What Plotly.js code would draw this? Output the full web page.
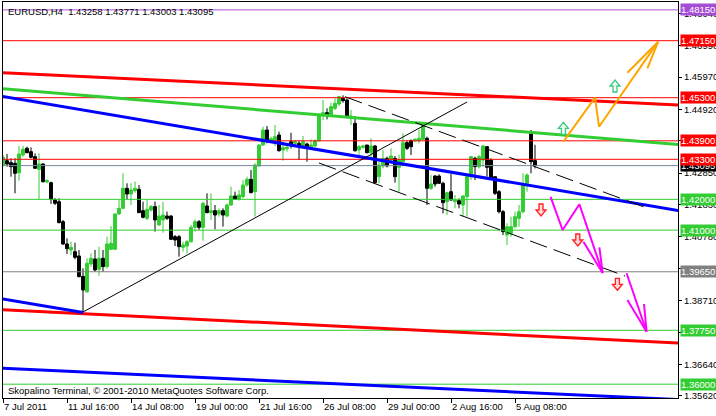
<!DOCTYPE html>
<html>
<head>
<meta charset="utf-8">
<script src="https://cdn.plot.ly/plotly-3.0.1.min.js"></script>
<style>html,body{margin:0;padding:0;background:#fff;}#chart{width:716px;height:416px;}</style>
</head>
<body>
<div id="chart"></div>
<script>
// ---- OHLC data, EURUSD H4 (bar 0 = 7 Jul 2011 00:00) ----
const openP = [1.43116,1.43256,1.43191,1.43170,1.42867,1.43440,1.43657,1.43548,1.43386,1.42975,
1.43148,1.42564,1.42542,1.42001,1.41925,1.41276,1.40551,1.40357,1.40302,1.40162,
1.39500,1.39003,1.39902,1.40064,1.39729,1.40086,1.39816,1.40378,1.40378,1.41525,
1.41709,1.42358,1.42174,1.42282,1.42326,1.41633,1.41384,1.41655,1.41763,1.41168,
1.41330,1.41460,1.41460,1.40789,1.40789,1.40443,1.40486,1.40627,1.41092,1.41276,
1.41092,1.41785,1.41568,1.41633,1.41525,1.41633,1.41460,1.41817,1.42109,1.42001,
1.42087,1.42466,1.42650,1.42249,1.43083,1.43764,1.44251,1.43883,1.43926,1.44089,
1.43602,1.43645,1.43872,1.43818,1.43818,1.43710,1.43797,1.43710,1.43732,1.43905,
1.44738,1.44814,1.44738,1.44954,1.45095,1.45279,1.45225,1.44662,1.44467,1.43602,
1.43688,1.43764,1.43515,1.43732,1.42736,1.43083,1.43331,1.43277,1.43331,1.43039,
1.43223,1.43840,1.43905,1.43905,1.43905,1.43948,1.43981,1.42358,1.42758,1.42758,
1.42520,1.41925,1.42249,1.41925,1.41957,1.41817,1.42087,1.42736,1.43331,1.43061,
1.43277,1.43710,1.43277,1.42736,1.42249,1.41600,1.40843,1.40897,1.41113,1.41384,
1.41600,1.42520,1.44144,1.43258];
const highP = [1.43440,1.43473,1.43332,1.43332,1.43732,1.43732,1.43711,1.43689,1.43494,1.43494,
1.43170,1.42650,1.42575,1.42034,1.42034,1.41330,1.40735,1.40627,1.40594,1.40357,
1.39761,1.40086,1.40248,1.40357,1.40465,1.40357,1.40789,1.41136,1.41547,1.41980,
1.42845,1.42520,1.42520,1.42575,1.42466,1.41925,1.41980,1.41817,1.41925,1.41817,
1.41925,1.41601,1.41482,1.40843,1.40843,1.40627,1.40681,1.41168,1.41352,1.41330,
1.41925,1.42196,1.42196,1.41817,1.41709,1.41709,1.41871,1.42412,1.42250,1.42304,
1.42628,1.42736,1.42953,1.43169,1.43797,1.44359,1.44381,1.44035,1.44413,1.44197,
1.43872,1.43732,1.44164,1.43926,1.43905,1.44056,1.43840,1.43948,1.43948,1.44792,
1.45225,1.44954,1.45138,1.45279,1.45355,1.45376,1.45279,1.44900,1.44706,1.43764,
1.43764,1.43764,1.43981,1.43764,1.43223,1.43602,1.43385,1.43656,1.43407,1.43440,
1.44143,1.43905,1.43948,1.43981,1.44251,1.44489,1.44035,1.42790,1.42790,1.42812,
1.42574,1.42249,1.42823,1.42141,1.42033,1.42141,1.42736,1.43407,1.43385,1.43440,
1.43764,1.43732,1.43331,1.42736,1.42304,1.41654,1.41222,1.41438,1.41600,1.41817,
1.42845,1.42845,1.44251,1.43771];
const lowP = [1.43061,1.43061,1.42737,1.42196,1.42607,1.43386,1.43494,1.43332,1.43007,1.42001,
1.42542,1.42520,1.41850,1.41817,1.41222,1.40519,1.40227,1.40194,1.40053,1.39469,
1.38353,1.38960,1.39816,1.39653,1.39513,1.39653,1.39761,1.40357,1.40357,1.41492,
1.41676,1.42001,1.41817,1.42218,1.41568,1.41384,1.41330,1.41601,1.40952,1.41136,
1.40919,1.41330,1.40681,1.40486,1.40140,1.40302,1.40248,1.40594,1.40952,1.41006,
1.40659,1.41547,1.41330,1.41027,1.41438,1.41114,1.41417,1.41785,1.41980,1.41958,
1.42033,1.42412,1.42195,1.41438,1.43061,1.43732,1.43818,1.43840,1.43732,1.43548,
1.43256,1.43548,1.43656,1.43764,1.43277,1.43656,1.43223,1.43656,1.43710,1.43872,
1.44576,1.44597,1.44684,1.44900,1.45030,1.45138,1.44630,1.44413,1.43548,1.43407,
1.43645,1.43494,1.43331,1.42520,1.42520,1.43007,1.43039,1.43223,1.42542,1.42249,
1.43169,1.43602,1.43440,1.43872,1.43818,1.43926,1.41817,1.42304,1.42412,1.42498,
1.41546,1.41492,1.41957,1.41708,1.41708,1.41438,1.41438,1.42628,1.42628,1.43007,
1.43061,1.42736,1.42628,1.42141,1.41546,1.40843,1.40518,1.40789,1.41059,1.41113,
1.41546,1.42249,1.42846,1.43003];
const closeP = [1.43364,1.43148,1.43061,1.42845,1.43473,1.43624,1.43516,1.43364,1.43007,1.43148,
1.42575,1.42607,1.42001,1.41871,1.41244,1.40551,1.40400,1.40443,1.40118,1.39491,
1.39058,1.39924,1.40086,1.39707,1.40086,1.39816,1.40551,1.40573,1.41525,1.41709,
1.42358,1.42174,1.42304,1.42358,1.41568,1.41417,1.41676,1.41763,1.41330,1.41460,
1.41492,1.41384,1.40703,1.40681,1.40465,1.40519,1.40627,1.41092,1.41276,1.41092,
1.41871,1.41568,1.41633,1.41492,1.41633,1.41492,1.41817,1.42109,1.42001,1.42142,
1.42466,1.42650,1.42217,1.43115,1.43764,1.44251,1.43905,1.43970,1.44035,1.43580,
1.43678,1.43688,1.43797,1.43872,1.43732,1.43872,1.43710,1.43764,1.43905,1.44738,
1.44814,1.44738,1.45008,1.45117,1.45333,1.45203,1.44684,1.44706,1.43580,1.43710,
1.43732,1.43515,1.43732,1.42542,1.43115,1.43331,1.43083,1.43407,1.42736,1.43277,
1.43840,1.43656,1.43710,1.43948,1.43981,1.44467,1.42358,1.42498,1.42498,1.42520,
1.41892,1.42217,1.41979,1.41979,1.41849,1.42109,1.42736,1.43385,1.43061,1.43385,
1.43732,1.43039,1.42682,1.42195,1.41600,1.40951,1.41113,1.41113,1.41438,1.41600,
1.42466,1.42790,1.43222,1.43095];

// ---- time axis labels (bar index -> label) ----
const timeTickBars = [0, 16, 32, 48, 64, 80, 96, 112, 128];
const timeTickLabels = ['7 Jul 2011','11 Jul 16:00','14 Jul 08:00','19 Jul 00:00','21 Jul 16:00','26 Jul 08:00','29 Jul 00:00','2 Aug 16:00','5 Aug 08:00'];

// ---- price axis ticks ----
const priceTicks = [1.3562,1.3664,1.3769,1.3871,1.3976,1.4078,1.4183,1.4285,1.4390,1.4492,1.4597,1.4699,1.4804];

// ---- horizontal levels (the bid line first so the other labels sit on top of it) ----
const levels      = [1.43095, 1.4815, 1.4715, 1.4530, 1.4390, 1.4330, 1.4200, 1.4100, 1.3965, 1.3775, 1.3600];
const levelColors = ['#778899','#B050D8','#FF0000','#FF0000','#FF0000','#FF0000','#32CD32','#32CD32','#808080','#32CD32','#32CD32'];
const levelBoxColors = ['#000000','#A64DD6','#FF0000','#FF0000','#FF0000','#FF0000','#32CD32','#32CD32','#808080','#32CD32','#32CD32'];

// ---- trend lines (bar index, price) ----
const redTopX = [-1, 170],   redTopY = [1.46117, 1.45058];
const redBotX = [-1, 170],   redBotY = [1.38424, 1.37329];
const greenX  = [-1, 170],   greenY  = [1.45603, 1.43768];
const blueTopX = [-1, 170],  blueTopY = [1.45361, 1.41611];
const blueMidX = [-1, 20],   blueMidY = [1.38788, 1.38327];
const blueBotX = [-1, 170],  blueBotY = [1.36522, 1.35494];
const diagX = [20, 116],     diagY = [1.38344, 1.45160];
const dashTopX = [85.5, 161],  dashTopY = [1.45332, 1.41719];
const dashBotX = [79, 155.5],  dashBotY = [1.43180, 1.39512];

// ---- drawn forecast arrows ----
const orangeX = [140.1, 148, 149, 163.8],   orangeY = [1.43872, 1.45300, 1.44358, 1.47118];
const orangeHeadX = [156.1, 163.8, 161.1],  orangeHeadY = [1.46111, 1.47118, 1.46254];
const mag1X = [136.9, 139.9, 144.1, 149.9], mag1Y = [1.42079, 1.41006, 1.41840, 1.39610];
const mag1HeadX = [145.1, 149.9, 149.1],    mag1HeadY = [1.40626, 1.39610, 1.40444];
const mag2X = [155.9, 160.9],               mag2Y = [1.39600, 1.37704];
const mag2HeadX = [156.1, 160.9, 160.25],   mag2HeadY = [1.38733, 1.37704, 1.38603];
const upArrowX = [140.1, 153],              upArrowY = [1.44306, 1.45680];
const downArrowX = [134.5, 143.7, 153.6],   downArrowY = [1.41655, 1.40681, 1.39243];

const header = 'EURUSD,H4\u00A0 1.43258 1.43771 1.43003 1.43095';
const footer = 'Skopalino Terminal, \u00A9 2001-2010 MetaQuotes Software Corp.';

const FONT = 'Liberation Sans, Arial, sans-serif';
const bars = openP.map((_, i) => i);

const traces = [];
traces.push({
  type: 'candlestick', x: bars, open: openP, high: highP, low: lowP, close: closeP,
  increasing: {line: {color: '#32CD32', width: 1}, fillcolor: '#32CD32'},
  decreasing: {line: {color: '#000000', width: 1}, fillcolor: '#000000'},
  whiskerwidth: 0, hoverinfo: 'skip', showlegend: false
});
levels.forEach((lv, i) => {
  traces.push({type: 'scatter', mode: 'lines', x: [-1, 170], y: [lv, lv],
    line: {color: levelColors[i], width: 1}, hoverinfo: 'skip', showlegend: false});
});
function line(x, y, color, width, dash) {
  traces.push({type: 'scatter', mode: 'lines', x: x, y: y,
    line: {color: color, width: width, dash: dash || 'solid'}, hoverinfo: 'skip', showlegend: false});
}
line(redTopX, redTopY, '#FF0000', 3);
line(redBotX, redBotY, '#FF0000', 3);
line(greenX, greenY, '#32CD32', 3);
line(blueTopX, blueTopY, '#0000FF', 3);
line(blueMidX, blueMidY, '#0000FF', 3);
line(blueBotX, blueBotY, '#0000FF', 3);
line(diagX, diagY, '#000000', 1);
line(dashTopX, dashTopY, '#000000', 1, '18px,7px');
line(dashBotX, dashBotY, '#000000', 1, '18px,7px');
line(orangeX, orangeY, '#FFA500', 2);
line(orangeHeadX, orangeHeadY, '#FFA500', 2);
line(mag1X, mag1Y, '#FF00FF', 2);
line(mag1HeadX, mag1HeadY, '#FF00FF', 2);
line(mag2X, mag2Y, '#FF00FF', 2);
line(mag2HeadX, mag2HeadY, '#FF00FF', 2);

// block-arrow glyphs (pixel outline), anchored at data points
const UP_PATH = 'M0,6 L5,0 L2,0 L2,-6 L-2,-6 L-2,0 L-5,0 Z';
const DOWN_PATH = 'M0,-6 L5,0 L2,0 L2,6 L-2,6 L-2,0 L-5,0 Z';
const shapes = [];
upArrowX.forEach((x, i) => shapes.push({type: 'path', xref: 'x', yref: 'y', xsizemode: 'pixel', ysizemode: 'pixel',
  xanchor: x, yanchor: upArrowY[i], path: UP_PATH, fillcolor: '#F0FFE8', line: {color: '#3CC88C', width: 1.3}, layer: 'above'}));
downArrowX.forEach((x, i) => shapes.push({type: 'path', xref: 'x', yref: 'y', xsizemode: 'pixel', ysizemode: 'pixel',
  xanchor: x, yanchor: downArrowY[i], path: DOWN_PATH, fillcolor: '#FFD8D8', line: {color: '#FF2020', width: 1.3}, layer: 'above'}));

const annotations = [];
levels.forEach((lv, i) => {
  annotations.push({xref: 'paper', yref: 'y', x: 1, y: lv, xanchor: 'left', yanchor: 'middle', xshift: 2,
    text: lv.toFixed(5), showarrow: false, bgcolor: levelBoxColors[i], width: 40, height: 11,
    align: 'left', borderpad: 0, font: {family: FONT, size: 9.5, color: '#FFFFFF'}});
});
annotations.push({xref: 'paper', yref: 'paper', x: 0, y: 1, xanchor: 'left', yanchor: 'top', xshift: 3, yshift: -2,
  text: header, showarrow: false, font: {family: FONT, size: 9.5, color: '#000000'}});
annotations.push({xref: 'paper', yref: 'paper', x: 0, y: 0, xanchor: 'left', yanchor: 'bottom', xshift: 3, yshift: 0,
  text: footer, showarrow: false, font: {family: FONT, size: 9.5, color: '#000000'}});

const layout = {
  width: 716, height: 416,
  margin: {l: 3, r: 38, t: 2, b: 18, pad: 0},
  paper_bgcolor: '#FFFFFF', plot_bgcolor: '#FFFFFF',
  showlegend: false, boxgap: 0.28, boxgroupgap: 0,
  xaxis: {range: [0, 168.75], rangeslider: {visible: false}, showgrid: false, zeroline: false,
    tickvals: timeTickBars, ticktext: timeTickLabels, ticks: 'outside', ticklen: 4, tickcolor: '#000',
    ticklabelposition: 'outside right', tickfont: {family: FONT, size: 9.5, color: '#000'},
    showline: true, mirror: true, linecolor: '#000', linewidth: 1, fixedrange: true},
  yaxis: {range: [1.35552, 1.48406], side: 'right', showgrid: false, zeroline: false,
    tickvals: priceTicks, ticktext: priceTicks.map(v => v.toFixed(5)), ticks: 'outside', ticklen: 3, tickcolor: '#000',
    tickfont: {family: FONT, size: 9.5, color: '#000'},
    showline: true, mirror: true, linecolor: '#000', linewidth: 1, fixedrange: true},
  shapes: shapes,
  annotations: annotations
};
Plotly.newPlot('chart', traces, layout, {staticPlot: true, displayModeBar: false});
</script>
</body>
</html>
